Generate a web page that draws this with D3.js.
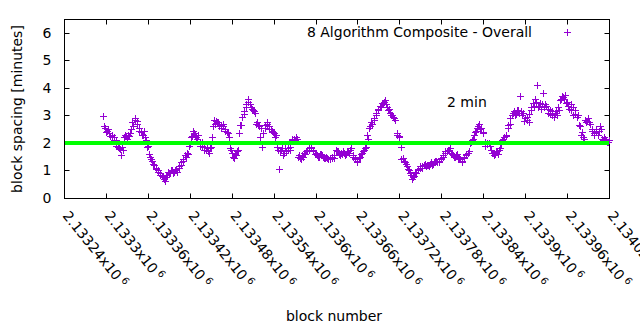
<!DOCTYPE html>
<html>
<head>
<meta charset="utf-8">
<script src="https://cdn.jsdelivr.net/npm/d3@7"></script>
<style>
  html, body { margin: 0; padding: 0; background: #fff; }
  svg { display: block; }
  text { font-family: "DejaVu Sans", sans-serif; font-size: 14px; fill: #000; }
</style>
</head>
<body>
<svg id="chart" width="640" height="330"></svg>
<script>
// ---- data ----
const seriesName = "8 Algorithm Composite - Overall";
const targetLabel = "2 min";
const targetValue = 2;
const xDomain = [2133240, 2134020];
const yDomain = [0, 6.5];
const yTicks = [0, 1, 2, 3, 4, 5, 6];
const xTickValues = [2133240, 2133300, 2133360, 2133420, 2133480, 2133540, 2133600,
                     2133660, 2133720, 2133780, 2133840, 2133900, 2133960, 2134020];
const xTickLabels = ["2.13324", "2.1333", "2.13336", "2.13342", "2.13348", "2.13354", "2.1336",
                     "2.13366", "2.13372", "2.13378", "2.13384", "2.1339", "2.13396", "2.13402"];
const blocksA = [
  2133296,2133299,2133302,2133305,2133308,2133311,2133314,2133317,2133320,2133323,
  2133326,2133329,2133332,2133335,2133338,2133341,2133344,2133347,2133350,2133353,
  2133356,2133359,2133362,2133365,2133368,2133371,2133374,2133377,2133380,2133383,
  2133386,2133389,2133392,2133395,2133398,2133401,2133404,2133407,2133410,2133413,
  2133416,2133419,2133422,2133425,2133428,2133431,2133434,2133437,2133440,2133443,
  2133446,2133449,2133452,2133455,2133458,2133461,2133464,2133467,2133470,2133473,
  2133476,2133479,2133482,2133485,2133488,2133491,2133494,2133497,2133500,2133503,
  2133506,2133509,2133512,2133515,2133518,2133521,2133524,2133527,2133530,2133533,
  2133536,2133539,2133542,2133545,2133548,2133551,2133554,2133557,2133560,2133563,
  2133566,2133569,2133572,2133575,2133578,2133581,2133584,2133587,2133590,2133593,
  2133596,2133599,2133602,2133605,2133608,2133611,2133614,2133617,2133620,2133623,
  2133626,2133629,2133632,2133635,2133638,2133641,2133644,2133647,2133650,2133653,
  2133656,2133659,2133662,2133665,2133668,2133671,2133674,2133677,2133680,2133683,
  2133686,2133689,2133692,2133695,2133698,2133701,2133704,2133707,2133710,2133713,
  2133716,2133719,2133722,2133725,2133728,2133731,2133734,2133737,2133740,2133743,
  2133746,2133749,2133752,2133755,2133758,2133761,2133764,2133767,2133770,2133773,
  2133776,2133779,2133782,2133785,2133788,2133791,2133794,2133797,2133800,2133803,
  2133806,2133809,2133812,2133815,2133818,2133821,2133824,2133827,2133830,2133833,
  2133836,2133839,2133842,2133845,2133848,2133851,2133854,2133857,2133860,2133863,
  2133866,2133869,2133872,2133875,2133878,2133881,2133884,2133887,2133890,2133893,
  2133896,2133899,2133902,2133905,2133908,2133911,2133914,2133917,2133920,2133923,
  2133926,2133929,2133932,2133935,2133938,2133941,2133944,2133947,2133950,2133953,
  2133956,2133959,2133962,2133965,2133968,2133971,2133974,2133977,2133980,2133983,
  2133986,2133989,2133992,2133995,2133998,2134001,2134004,2134007,2134010,2134013,
  2134016,2134019
];
const spacingA = [
  2.98,2.55,2.45,2.35,2.3,2.2,2.1,1.85,1.78,1.85,
  2.2,2.25,2.3,2.35,2.75,2.85,2.7,2.55,2.4,2.3,
  2.2,1.85,1.6,1.4,1.25,1.1,1.0,0.9,0.8,0.68,
  0.75,0.95,0.9,1.0,0.95,1.05,1.15,1.3,1.4,1.55,
  1.65,1.9,2.2,2.45,2.3,2.15,2.0,1.9,1.85,1.75,
  1.7,1.8,2.2,2.85,2.8,2.75,2.65,2.6,2.5,2.4,
  2.2,1.75,1.5,1.6,1.7,2.35,2.65,3.05,3.3,3.5,
  3.4,3.25,3.15,2.7,2.65,2.2,1.85,2.55,2.7,2.6,
  2.5,2.4,2.2,1.85,1.05,1.75,1.55,1.8,1.75,1.85,
  2.1,2.15,2.2,1.5,1.45,1.55,1.65,1.7,1.8,1.85,
  1.75,1.6,1.55,1.5,1.6,1.5,1.45,1.45,1.4,1.5,
  1.45,1.75,1.7,1.55,1.6,1.65,1.6,1.7,1.75,1.5,
  1.4,1.3,1.45,1.6,1.7,1.8,2.3,2.55,2.75,2.9,
  3.1,3.2,3.35,3.45,3.5,3.4,3.2,3.1,3.0,2.9,
  2.3,2.25,1.85,1.45,1.3,1.15,1.0,0.85,0.75,0.95,
  1.05,1.1,1.15,1.2,1.15,1.2,1.25,1.2,1.3,1.35,
  1.3,1.4,1.5,1.65,1.7,1.75,1.65,1.55,1.5,1.6,
  1.45,1.35,1.45,1.55,1.65,2.0,2.1,2.3,2.45,2.6,
  2.5,2.35,2.05,1.95,2.0,1.75,1.65,1.6,1.7,1.75,
  1.95,2.15,2.25,2.55,2.7,3.0,3.15,3.05,3.2,3.7,
  3.0,2.8,2.95,2.75,3.3,3.45,3.6,4.1,3.35,3.25,
  3.8,3.4,3.1,3.2,3.0,2.95,3.15,3.3,3.55,3.7,
  3.6,3.45,3.35,3.2,3.3,3.05,2.95,2.65,2.3,2.2,
  2.85,2.8,2.75,2.45,2.35,2.4,2.3,2.6,2.15,2.2,
  2.1,2.05
];
const blocksB = [
  2133297,2133300,2133303,2133306,2133309,2133312,2133315,2133318,2133321,2133324,
  2133327,2133330,2133333,2133336,2133339,2133342,2133345,2133348,2133351,2133354,
  2133357,2133360,2133363,2133366,2133369,2133372,2133375,2133378,2133381,2133384,
  2133387,2133390,2133393,2133396,2133399,2133402,2133405,2133408,2133411,2133414,
  2133417,2133420,2133423,2133426,2133429,2133432,2133435,2133438,2133441,2133444,
  2133447,2133450,2133453,2133456,2133459,2133462,2133465,2133468,2133471,2133474,
  2133477,2133480,2133483,2133486,2133489,2133492,2133495,2133498,2133501,2133504,
  2133507,2133510,2133513,2133516,2133519,2133522,2133525,2133528,2133531,2133534,
  2133537,2133540,2133543,2133546,2133549,2133552,2133555,2133558,2133561,2133564,
  2133567,2133570,2133573,2133576,2133579,2133582,2133585,2133588,2133591,2133594,
  2133597,2133600,2133603,2133606,2133609,2133612,2133615,2133618,2133621,2133624,
  2133627,2133630,2133633,2133636,2133639,2133642,2133645,2133648,2133651,2133654,
  2133657,2133660,2133663,2133666,2133669,2133672,2133675,2133678,2133681,2133684,
  2133687,2133690,2133693,2133696,2133699,2133702,2133705,2133708,2133711,2133714,
  2133717,2133720,2133723,2133726,2133729,2133732,2133735,2133738,2133741,2133744,
  2133747,2133750,2133753,2133756,2133759,2133762,2133765,2133768,2133771,2133774,
  2133777,2133780,2133783,2133786,2133789,2133792,2133795,2133798,2133801,2133804,
  2133807,2133810,2133813,2133816,2133819,2133822,2133825,2133828,2133831,2133834,
  2133837,2133840,2133843,2133846,2133849,2133852,2133855,2133858,2133861,2133864,
  2133867,2133870,2133873,2133876,2133879,2133882,2133885,2133888,2133891,2133894,
  2133897,2133900,2133903,2133906,2133909,2133912,2133915,2133918,2133921,2133924,
  2133927,2133930,2133933,2133936,2133939,2133942,2133945,2133948,2133951,2133954,
  2133957,2133960,2133963,2133966,2133969,2133972,2133975,2133978,2133981,2133984,
  2133987,2133990,2133993,2133996,2133999,2134002,2134005,2134008,2134011,2134014,
  2134017,2134020
];
const spacingB = [
  2.6,2.4,2.5,2.25,2.2,2.1,1.9,1.8,1.55,1.75,
  2.3,2.15,2.25,2.5,2.6,2.9,2.8,2.45,2.3,2.45,
  2.1,1.9,1.5,1.35,1.2,1.05,0.95,0.85,0.75,0.6,
  0.85,0.9,1.0,0.9,1.0,0.95,1.1,1.2,1.35,1.5,
  1.6,1.95,2.25,2.35,2.2,2.3,1.9,2.05,1.75,1.8,
  1.65,1.85,2.6,2.7,2.75,2.6,2.55,2.7,2.45,2.35,
  1.8,1.65,1.45,1.55,1.75,2.65,2.95,3.15,3.4,3.6,
  3.3,3.2,3.1,2.75,2.6,2.55,2.35,2.65,2.75,2.5,
  2.45,2.35,2.3,1.75,1.7,1.8,1.65,1.7,1.8,1.75,
  2.15,2.1,2.15,1.55,1.4,1.5,1.6,1.75,1.75,1.8,
  1.7,1.65,1.5,1.6,1.55,1.45,1.5,1.4,1.45,1.45,
  1.55,1.7,1.6,1.65,1.7,1.55,1.7,1.65,1.8,1.55,
  1.45,1.35,1.5,1.65,1.75,1.85,2.15,2.6,2.7,2.85,
  3.0,3.25,3.3,3.4,3.55,3.3,3.25,3.0,2.95,2.85,
  2.35,2.2,1.4,1.35,1.25,1.05,0.9,0.7,0.8,0.9,
  1.0,1.15,1.1,1.25,1.2,1.15,1.3,1.25,1.35,1.3,
  1.35,1.45,1.55,1.7,1.75,1.8,1.6,1.5,1.55,1.4,
  1.4,1.3,1.5,1.6,1.7,2.05,2.15,2.4,2.55,2.7,
  2.55,2.4,1.9,2.0,1.9,1.65,1.55,1.7,1.6,1.8,
  2.1,2.2,2.3,2.65,2.9,3.1,3.0,3.2,3.1,3.15,
  3.1,2.9,2.85,3.05,3.2,3.35,3.5,3.3,3.45,3.4,
  3.3,3.35,3.25,3.05,3.15,3.1,3.0,3.2,3.6,3.65,
  3.75,3.5,3.25,3.4,3.0,3.2,3.0,2.6,2.4,2.15,
  2.75,2.9,2.7,2.5,2.3,2.5,2.45,2.5,2.1,2.15,
  2.05,2.1
];

// ---- layout ----
const L = 64, R = 609, T = 19, B = 198;
const purple = "#9400d3", green = "#00ff00";
const tick = 5;

const svg = d3.select("#chart");
const x = d3.scaleLinear().domain(xDomain).range([L, R]);
const y = d3.scaleLinear().domain(yDomain).range([B, T]);

// axes with inward ticks (mirrored on all sides)
const gL = svg.append("g").attr("transform", `translate(${L + 0.5},0)`)
  .call(d3.axisLeft(y).tickValues(yTicks).tickSize(-tick).tickPadding(13).tickFormat(d3.format("d")));
const gR = svg.append("g").attr("transform", `translate(${R + 0.5},0)`)
  .call(d3.axisRight(y).tickValues(yTicks).tickSize(-tick).tickFormat(""));
const gB = svg.append("g").attr("transform", `translate(0,${B + 0.5})`)
  .call(d3.axisBottom(x).tickValues(xTickValues).tickSize(-tick).tickFormat(""));
const gT = svg.append("g").attr("transform", `translate(0,${T + 0.5})`)
  .call(d3.axisTop(x).tickValues(xTickValues).tickSize(-tick).tickFormat(""));
[gL, gR, gB, gT].forEach(g => {
  g.select(".domain").remove();
  g.selectAll(".tick line").attr("stroke", "#000").attr("stroke-width", 1);
  g.selectAll("text").attr("font-family", "DejaVu Sans").attr("font-size", 14).attr("fill", "#000");
});
gL.selectAll(".tick").attr("transform", d => `translate(0,${Math.round(y(d)) + 0.5})`);
gR.selectAll(".tick").attr("transform", d => `translate(0,${Math.round(y(d)) + 0.5})`);
gB.selectAll(".tick").attr("transform", d => `translate(${Math.round(x(d)) + 0.5},0)`);
gT.selectAll(".tick").attr("transform", d => `translate(${Math.round(x(d)) + 0.5},0)`);

// rotated x tick labels
const xl = svg.append("g").selectAll("text").data(xTickValues).join("text")
  .attr("transform", d => `translate(${x(d) - 2},216) rotate(51)`)
  .attr("text-anchor", "start");
xl.append("tspan").text((d, i) => xTickLabels[i] + "x10");
xl.append("tspan").attr("font-size", 10).attr("dx", 3).attr("dy", -5).text("6");

// frame
svg.append("rect").attr("x", L + 0.5).attr("y", T + 0.5).attr("width", R - L).attr("height", B - T)
  .attr("fill", "none").attr("stroke", "#000").attr("stroke-width", 1);

// points
const pts = blocksA.map((b, i) => [b, spacingA[i]])
  .concat(blocksB.map((b, i) => [b, spacingB[i]]));
svg.append("g").selectAll("path").data(pts).join("path")
  .attr("d", d => {
    const px = Math.round(x(d[0])), py = Math.round(y(d[1]));
    return `M${px - 3},${py + 0.5}h7M${px + 0.5},${py - 3}v7`;
  })
  .attr("stroke", purple).attr("stroke-width", 1).attr("fill", "none");

// target line
svg.append("line").attr("x1", x(xDomain[0]) + 1).attr("x2", x(xDomain[1]))
  .attr("y1", y(targetValue)).attr("y2", y(targetValue))
  .attr("stroke", green).attr("stroke-width", 4);

// label
svg.append("text").attr("x", 447).attr("y", 107).text(targetLabel);

// legend
svg.append("text").attr("x", 532).attr("y", 37).attr("text-anchor", "end").text(seriesName);
svg.append("path").attr("d", "M564,32.5h7M567.5,29v7").attr("stroke", purple).attr("stroke-width", 1);

// axis titles
svg.append("text").attr("transform", "translate(22,109) rotate(-90)").attr("text-anchor", "middle")
  .text("block spacing [minutes]");
svg.append("text").attr("x", 334).attr("y", 321).attr("text-anchor", "middle").text("block number");
</script>
</body>
</html>
